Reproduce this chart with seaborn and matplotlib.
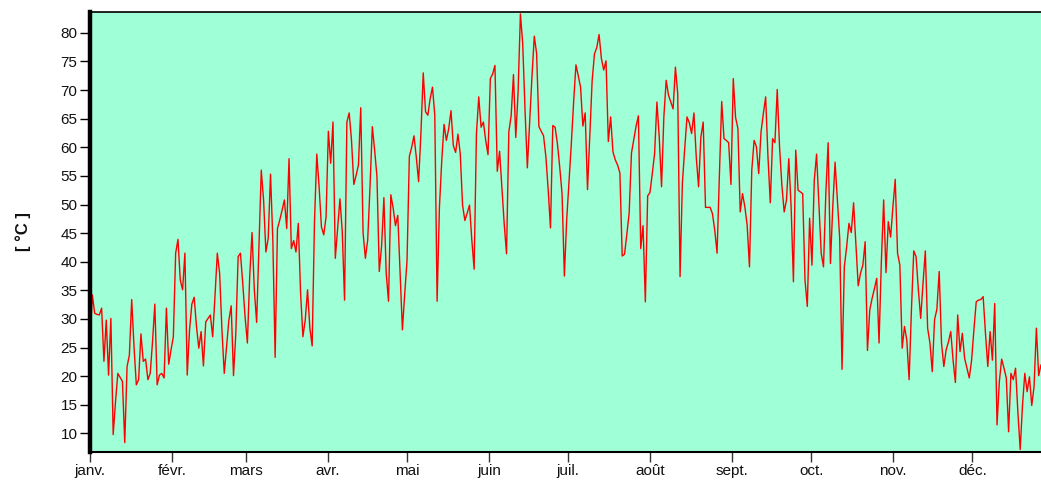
import pandas as pd
import matplotlib
matplotlib.use('Agg')
import matplotlib.pyplot as plt
import matplotlib.dates as mdates
from matplotlib.ticker import MultipleLocator, FuncFormatter
import seaborn as sns

# ==========================================
# data
# ==========================================
month_labels = ['janv.', 'févr.', 'mars', 'avr.', 'mai', 'juin',
                'juil.', 'août', 'sept.', 'oct.', 'nov.', 'déc.']

start_date = '2021-01-01'
end_date = '2021-12-27'

# janvier - mi-février
temps_a = [26.0, 34.2, 31.0, 30.8, 30.7, 31.9, 22.6, 29.8, 20.2, 30.1,
           9.8, 15.5, 20.5, 19.8, 19.1, 8.4, 21.7, 23.7, 33.4, 25.2,
           18.5, 19.4, 27.4, 22.6, 23.0, 19.4, 20.5, 26.0, 32.6, 18.5,
           20.2, 20.5, 19.7, 31.9, 22.1, 24.6, 26.9, 41.5, 43.9, 36.8,
           35.1, 41.5, 20.2, 28.1, 32.6, 33.8, 28.7, 24.9, 27.8, 21.8,
           29.5]
# mi-février - avril
temps_b = [30.1, 30.7, 26.9, 34.0, 41.5, 38.0, 28.1, 20.5, 25.2, 29.8,
           32.3, 20.1, 27.5, 40.9, 41.5, 36.2, 30.4, 25.8, 37.4, 45.1,
           35.1, 29.4, 42.9, 56.0, 50.8, 41.7, 44.1, 55.3, 43.8, 23.3,
           45.8, 47.3, 49.0, 50.8, 45.8, 58.0, 42.3, 43.7, 41.7, 46.7,
           34.5, 26.9, 29.8, 35.1, 28.4, 25.3, 47.0, 58.8, 53.1, 46.1,
           44.7, 47.8, 62.8]
# avril - mai
temps_c = [57.2, 64.4, 40.6, 45.9, 51.0, 45.3, 33.3, 64.4, 66.0, 61.2,
           53.5, 55.1, 56.9, 66.9, 45.1, 40.6, 43.8, 53.1, 63.6, 59.5,
           54.9, 38.3, 42.7, 51.2, 38.0, 33.1, 51.7, 49.4, 46.3, 48.1,
           38.0, 28.1, 34.4, 40.2, 58.4, 60.0, 62.0, 58.3, 54.0, 62.4,
           73.0, 66.2, 65.6, 68.5, 70.5, 65.6, 33.1, 49.5, 57.6, 64.0,
           61.2]
# mai - juin
temps_d = [63.2, 66.4, 60.3, 59.1, 62.3, 58.9, 49.9, 47.2, 48.5, 49.9,
           43.8, 38.7, 62.4, 68.8, 63.5, 64.4, 61.2, 58.7, 72.0, 72.8,
           74.3, 55.8, 59.3, 52.9, 46.6, 41.4, 62.7, 65.5, 72.7, 61.7,
           69.7, 83.3, 78.1, 66.5, 56.4, 64.3, 72.4, 79.4, 76.4, 63.6,
           62.8, 62.0, 58.4, 52.6, 45.9, 63.8, 63.5, 60.6, 56.5, 51.9,
           37.5, 47.3, 54.0]
# juillet - août
temps_e = [60.6, 67.9, 74.4, 72.5, 70.5, 63.7, 66.0, 52.6, 62.3, 71.6,
           76.3, 77.4, 79.7, 75.5, 73.5, 75.1, 61.0, 65.3, 59.2, 57.8,
           56.9, 55.5, 41.0, 41.3, 44.8, 48.5, 59.0, 61.4, 63.7, 65.5,
           42.3, 46.3, 33.0, 51.5, 52.1, 55.4, 58.9, 67.9, 61.8, 53.1,
           65.3, 71.7, 69.1, 67.9, 66.7, 74.0, 69.3, 37.4, 53.7, 59.7,
           65.3, 64.3]
# août - septembre
temps_f = [62.4, 66.0, 58.3, 53.1, 61.8, 64.4, 49.5, 49.5, 49.5, 48.4,
           45.5, 41.5, 55.1, 68.0, 61.5, 61.2, 60.8, 53.5, 72.0, 65.2,
           63.3, 48.7, 51.9, 49.6, 46.4, 39.1, 56.0, 61.2, 60.1, 55.4,
           62.7, 65.9, 68.8, 58.3, 50.3, 61.5, 60.8, 70.1, 60.1, 53.4,
           48.7, 50.8, 58.0, 49.6, 36.5, 59.5, 52.5, 52.2, 51.9, 36.8,
           32.2, 47.6]
# octobre - novembre
temps_g = [39.4, 54.2, 58.8, 50.2, 41.5, 39.1, 51.9, 60.8, 39.7, 49.6,
           57.4, 50.8, 44.1, 21.2, 39.1, 42.6, 46.7, 45.1, 50.3, 42.9,
           35.8, 38.0, 39.4, 43.5, 24.5, 31.6, 33.6, 35.3, 37.1, 25.8,
           40.0, 50.8, 38.1, 47.0, 44.3, 49.6, 54.4, 41.5, 39.4, 24.9,
           28.7, 26.3, 19.4, 31.6, 41.9, 40.9, 35.1, 30.1, 36.2, 41.9,
           28.4, 25.8]
# novembre - décembre
temps_h = [20.8, 29.9, 31.7, 38.3, 25.8, 21.7, 24.6, 26.0, 27.8, 22.8,
           18.9, 30.7, 24.3, 27.5, 23.1, 21.4, 19.7, 22.8, 28.1, 33.0,
           33.3, 33.4, 33.9, 27.5, 21.7, 27.8, 22.8, 32.7, 11.5, 19.1,
           23.0, 21.4, 19.7, 10.3, 20.5, 19.4, 21.4, 13.8, 7.2, 14.9,
           20.5, 17.3, 19.9, 14.9, 18.2, 28.4, 20.1, 22.0]

temps = temps_a + temps_b + temps_c + temps_d + temps_e + temps_f + temps_g + temps_h
dates = pd.date_range(start_date, end_date, periods=len(temps))
df = pd.DataFrame({'date': dates, 'temp': temps})

# ==========================================
# style
# ==========================================
sns.set_style('ticks')
plt.rcParams['font.family'] = ['Liberation Sans', 'DejaVu Sans']

fig = plt.figure(figsize=(10.41, 4.8), dpi=100)
ax = fig.add_axes([0.0865, 0.059, 0.9135, 0.9166])
ax.set_facecolor('#9fffd6')

sns.lineplot(data=df, x='date', y='temp', color='red', linewidth=1.0, ax=ax)

ax.set_xlim(dates[0], dates[-1])
ax.margins(x=0, y=0.005)

# axes / spines
ax.spines['left'].set_linewidth(3.2)
ax.spines['left'].set_color('black')
ax.spines['top'].set_linewidth(1.2)
ax.spines['top'].set_color('black')
ax.spines['bottom'].set_linewidth(1.5)
ax.spines['bottom'].set_color('black')
ax.spines['right'].set_visible(False)

# ticks
ax.yaxis.set_major_locator(MultipleLocator(5))
ax.xaxis.set_major_locator(mdates.MonthLocator())
ax.xaxis.set_major_formatter(FuncFormatter(
    lambda v, pos: month_labels[mdates.num2date(v).month - 1]))
ax.tick_params(axis='y', direction='out', length=7, width=1, color='black',
               labelsize=11, labelcolor='#111111', pad=2)
ax.tick_params(axis='x', direction='out', length=7, width=1, color='#333333',
               labelsize=11, labelcolor='#111111', pad=2)

ax.set_xlabel('')
ax.set_ylabel('[ °C ]', fontsize=12, fontweight='bold', color='#111111')
ax.yaxis.set_label_coords(-0.062, 0.5)

plt.savefig('out.png', dpi=100)
